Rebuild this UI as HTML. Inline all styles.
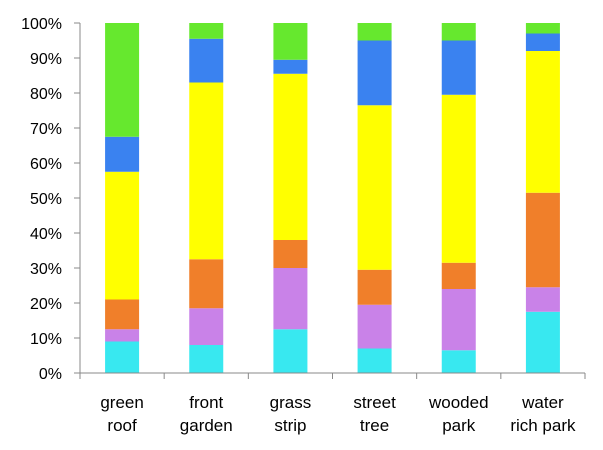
<!DOCTYPE html>
<html><head><meta charset="utf-8"><style>
body{margin:0;background:#fff;}
svg{display:block;font-family:"Liberation Sans",sans-serif;}
</style></head><body>
<svg id="chart" width="603" height="450"></svg>
<script>
const categories=[["green","roof"],["front","garden"],["grass","strip"],["street","tree"],["wooded","park"],["water","rich park"]];
const seriesNames=["cyan","purple","orange","yellow","blue","green"];
const colors=["#38E8F0","#C982E8","#F07F2A","#FFFF00","#3A82F0","#66E82E"];
const cyanVals=[9,8,12.5,7,6.5,17.5];
const purpleVals=[3.5,10.5,17.5,12.5,17.5,7];
const orangeVals=[8.5,14,8,10,7.5,27];
const yellowVals=[36.5,50.5,47.5,47,48,40.5];
const blueVals=[10,12.5,4,18.5,15.5,5];
const greenVals=[32.5,4.5,10.5,5,5,3];
const yTicks=[0,10,20,30,40,50,60,70,80,90,100];
const series=[cyanVals,purpleVals,orangeVals,yellowVals,blueVals,greenVals];
const NS="http://www.w3.org/2000/svg";
const svg=document.getElementById('chart');
const x0=80,x1=585,yb=373,yt=23;
const y=v=>yb-(v/100)*(yb-yt);
const band=(x1-x0)/categories.length;
const xc=i=>x0+band*(i+0.5);
const bw=34;
function mk(t,a){const e=document.createElementNS(NS,t);for(const k in a)e.setAttribute(k,a[k]);svg.appendChild(e);return e;}
yTicks.forEach(t=>{
 const l=mk('line',{x1:x0-6,x2:x0,y1:y(t),y2:y(t),stroke:'#888'});
 
 
 const tx=mk('text',{x:x0-18,y:y(t)+6,'text-anchor':'end','font-size':16,fill:'#000'});
 tx.textContent=t+'%';
 
 
});
for(let i=0;i<=categories.length;i++){
 const l=mk('line',{x1:x0+band*i,x2:x0+band*i,y1:yb,y2:yb+6,stroke:'#888'});
 
 
}
categories.forEach((c,i)=>{
 let acc=0;
 series.forEach((s,j)=>{
  const v=s[i];
  const r=mk('rect',{x:xc(i)-bw/2,y:y(acc+v),width:bw,height:y(acc)-y(acc+v),fill:colors[j]});
  
  
  acc+=v;
 });
 c.forEach((w,k)=>{
  const tx=mk('text',{x:xc(i),y:408+k*23,'text-anchor':'middle','font-size':17,fill:'#000'});
  tx.textContent=w;
  
  
 });
});
const ya=mk('line',{x1:x0,x2:x0,y1:yt,y2:yb,stroke:'#888'});


const xa=mk('line',{x1:x0,x2:x1,y1:yb,y2:yb,stroke:'#888'});


</script>
</body></html>
